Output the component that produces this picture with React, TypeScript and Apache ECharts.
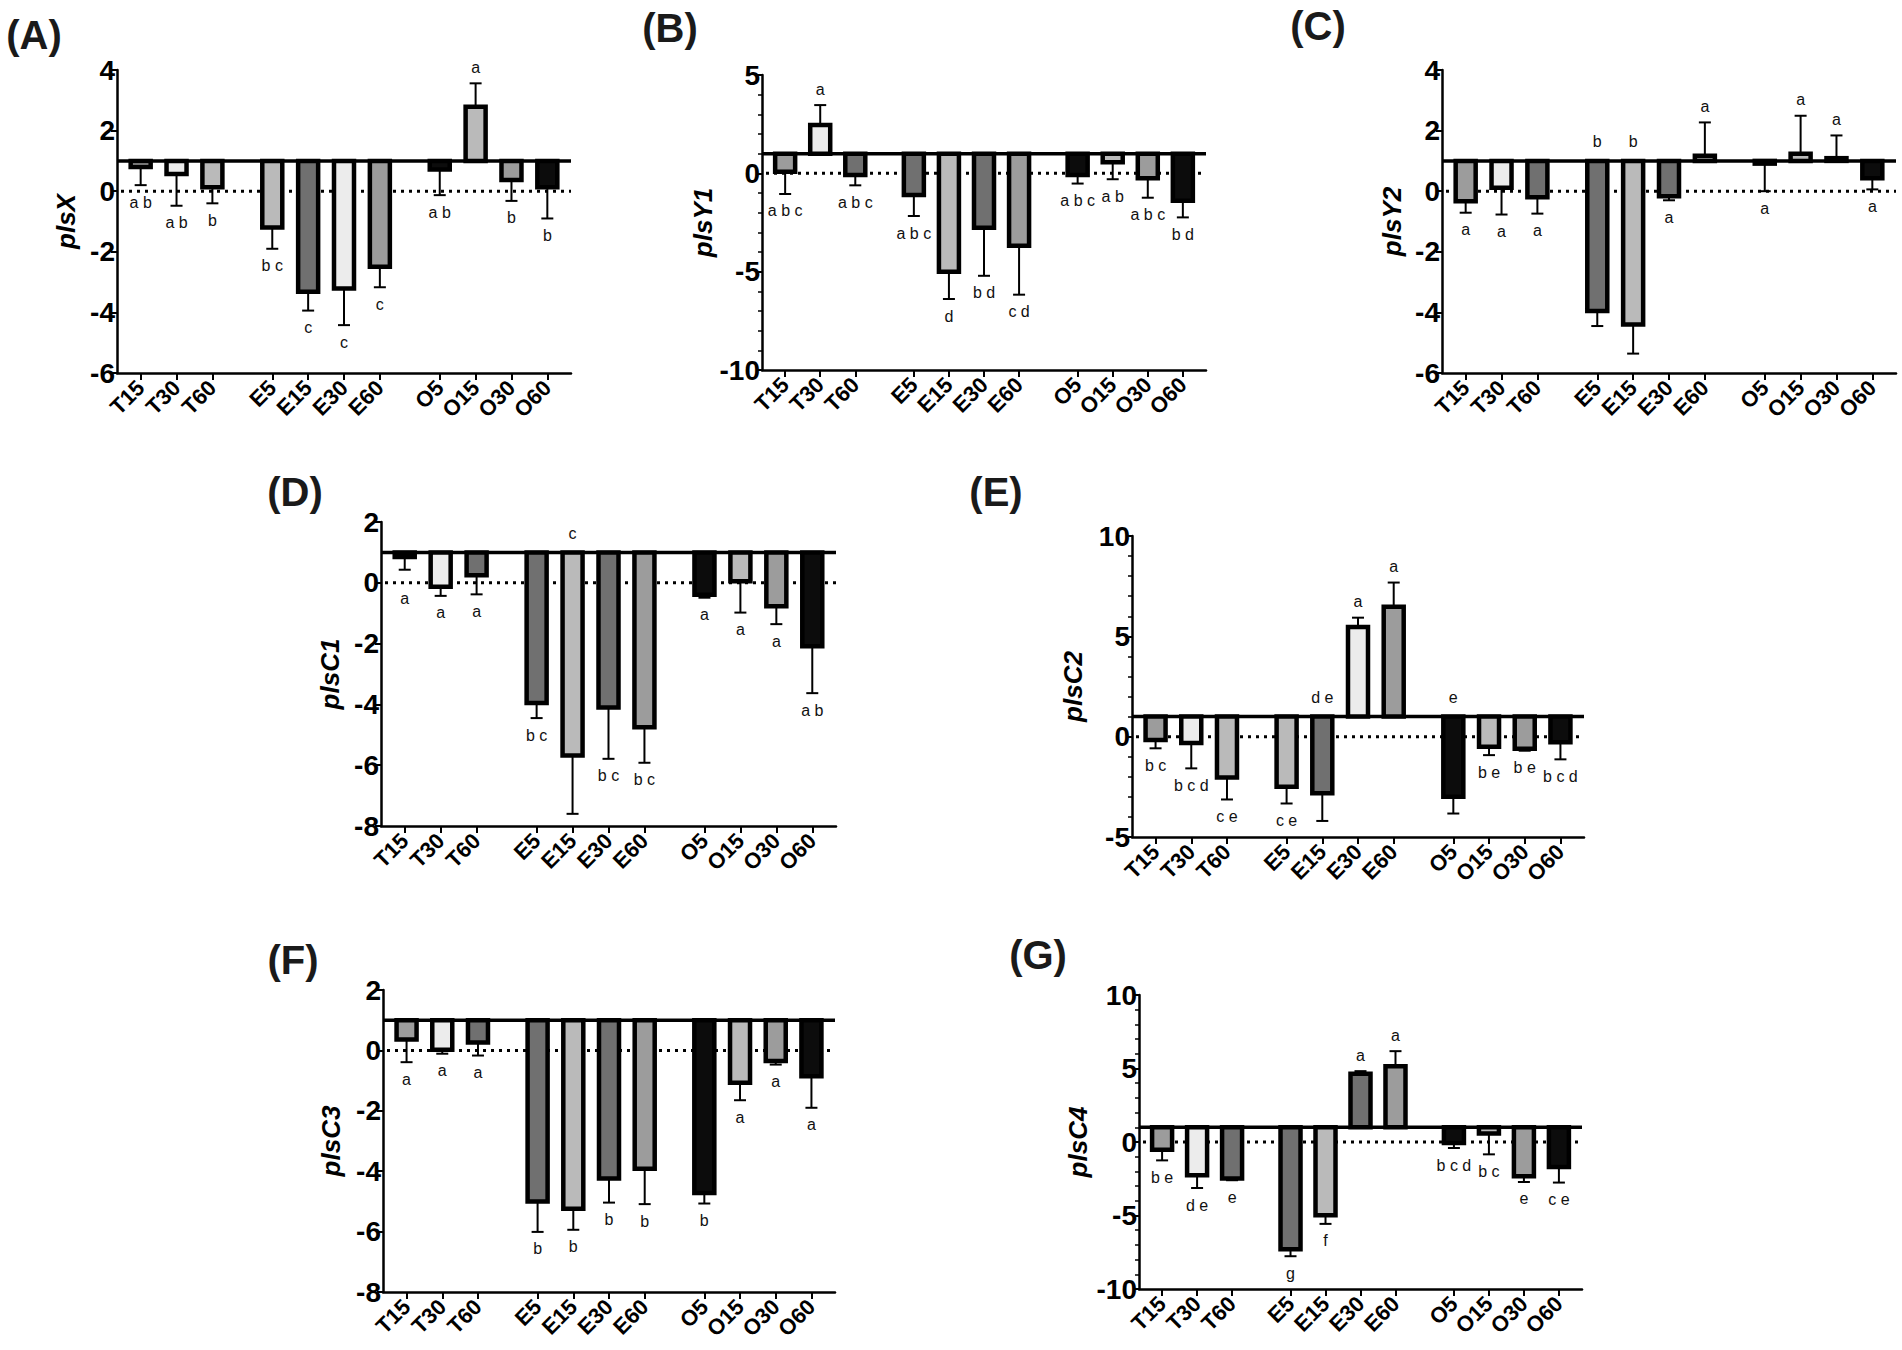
import React, { useEffect, useRef } from "react";
import * as echarts from "echarts";

// ---------- data ----------
const CATEGORIES = ["T15", "T30", "T60", "E5", "E15", "E30", "E60", "O5", "O15", "O30", "O60"];

const A_MEANS = [0.8, 0.57, 0.13, -1.2, -3.32, -3.21, -2.49, 0.72, 2.79, 0.37, 0.13];
const A_ERRS = [0.2, -0.48, -0.4, -1.9, -3.94, -4.42, -3.17, -0.13, 3.56, -0.32, -0.9];
const A_LETTERS = ["a b", "a b", "b", "b c", "c", "c", "c", "a b", "a", "b", "b"];

const B_MEANS = [0.08, 2.46, -0.09, -1.1, -5.0, -2.77, -3.68, -0.08, 0.56, -0.25, -1.39];
const B_ERRS = [-1.05, 3.47, -0.61, -2.17, -6.39, -5.21, -6.17, -0.52, -0.3, -1.24, -2.24];
const B_LETTERS = ["a b c", "a", "a b c", "a b c", "d", "b d", "c d", "a b c", "a b", "a b c", "b d"];

const C_MEANS = [-0.33, 0.11, -0.2, -3.95, -4.4, -0.17, 1.17, 0.91, 1.24, 1.09, 0.43];
const C_ERRS = [-0.71, -0.77, -0.74, -4.45, -5.36, -0.3, 2.27, 0.0, 2.49, 1.84, 0.06];
const C_LETTERS = ["a", "a", "a", "b", "b", "a", "a", "a", "a", "a", "a"];

const D_MEANS = [0.85, -0.13, 0.25, -3.95, -5.68, -4.1, -4.75, -0.39, 0.05, -0.77, -2.09];
const D_ERRS = [0.43, -0.43, -0.38, -4.45, -7.6, -5.79, -5.92, -0.49, -0.98, -1.36, -3.63];
const D_LETTERS = ["a", "a", "a", "b c", "c", "b c", "b c", "a", "a", "a", "a b"];

const E_MEANS = [-0.17, -0.32, -2.03, -2.5, -2.82, 5.47, 6.47, -3.0, -0.5, -0.6, -0.28];
const E_ERRS = [-0.58, -1.58, -3.13, -3.33, -4.2, 5.93, 7.68, -3.83, -0.92, -0.7, -1.13];
const E_LETTERS = ["b c", "b c d", "c e", "c e", "d e", "a", "a", "e", "b e", "b e", "b c d"];

const F_MEANS = [0.36, 0.02, 0.26, -5.0, -5.24, -4.24, -3.92, -4.72, -1.07, -0.35, -0.86];
const F_ERRS = [-0.39, -0.11, -0.17, -6.01, -5.94, -5.04, -5.09, -5.07, -1.65, -0.47, -1.9];
const F_LETTERS = ["a", "a", "a", "b", "b", "b", "b", "b", "a", "a", "a"];

const G_MEANS = [-0.52, -2.27, -2.49, -7.29, -4.98, 4.64, 5.16, -0.07, 0.57, -2.33, -1.7];
const G_ERRS = [-1.25, -3.13, -2.6, -7.77, -5.57, 4.82, 6.18, -0.41, -0.84, -2.72, -2.76];
const G_LETTERS = ["b e", "d e", "e", "g", "f", "a", "a", "b c d", "b c", "e", "c e"];

// labels that sit just above the baseline although the bar points down
const C_UP = [3, 4];
const D_UP = [4];
const E_UP = [4, 7];

// ---------- layout / style ----------
const BASELINE = 1;
const GROUP_GAP = 1.67;
const X_POS = CATEGORIES.map((_, i) => i + (i >= 3 ? GROUP_GAP - 1 : 0) + (i >= 7 ? GROUP_GAP - 1 : 0));
const X_MIN = -0.66;
const X_MAX = 12.0;

const FONT = "Liberation Sans, Arial, Helvetica, sans-serif";
const K = "#0c0c0c";
const D1 = "#707070";
const M = "#9c9c9c";
const L = "#bababa";
const W = "#ececec";
const PALETTE_1 = [M, W, L, L, D1, W, M, K, L, M, K];
const PALETTE_2 = [M, W, D1, D1, L, D1, M, K, L, M, K];

const PANELS = [
  { tag: "A", name: "plsX", means: A_MEANS, errs: A_ERRS, letters: A_LETTERS, up: [], colors: PALETTE_1, yMin: -6, yMax: 4, yInt: 2, minor: false },
  { tag: "B", name: "plsY1", means: B_MEANS, errs: B_ERRS, letters: B_LETTERS, up: [], colors: PALETTE_2, yMin: -10, yMax: 5, yInt: 5, minor: true },
  { tag: "C", name: "plsY2", means: C_MEANS, errs: C_ERRS, letters: C_LETTERS, up: C_UP, colors: PALETTE_2, yMin: -6, yMax: 4, yInt: 2, minor: false },
  { tag: "D", name: "plsC1", means: D_MEANS, errs: D_ERRS, letters: D_LETTERS, up: D_UP, colors: PALETTE_2, yMin: -8, yMax: 2, yInt: 2, minor: false },
  { tag: "E", name: "plsC2", means: E_MEANS, errs: E_ERRS, letters: E_LETTERS, up: E_UP, colors: PALETTE_1, yMin: -5, yMax: 10, yInt: 5, minor: true },
  { tag: "F", name: "plsC3", means: F_MEANS, errs: F_ERRS, letters: F_LETTERS, up: [], colors: PALETTE_2, yMin: -8, yMax: 2, yInt: 2, minor: false },
  { tag: "G", name: "plsC4", means: G_MEANS, errs: G_ERRS, letters: G_LETTERS, up: [], colors: PALETTE_2, yMin: -10, yMax: 10, yInt: 5, minor: true },
];

const LAYOUT = [
  { left: 117, top: 70, width: 454, height: 303, nameGap: 38, tx: 34, ty: 35 },
  { left: 762, top: 75, width: 444, height: 295, nameGap: 46, tx: 670, ty: 28 },
  { left: 1442, top: 70, width: 454, height: 303, nameGap: 37, tx: 1318, ty: 26 },
  { left: 381, top: 522, width: 455, height: 304, nameGap: 38, tx: 295, ty: 492 },
  { left: 1132, top: 536, width: 452, height: 301, nameGap: 46, tx: 996, ty: 492 },
  { left: 383, top: 990, width: 452, height: 302, nameGap: 39, tx: 293, ty: 960 },
  { left: 1139, top: 995, width: 443, height: 294, nameGap: 48, tx: 1038, ty: 955 },
];

const BAR_W = 20;
const CAP = 6;
const LETTER_SIZE = 16;

function buildOption() {
  const grid: any[] = [];
  const xAxis: any[] = [];
  const yAxis: any[] = [];
  const series: any[] = [];
  const graphic: any[] = [];

  PANELS.forEach((p, i) => {
    const lay = LAYOUT[i];
    grid.push({ left: lay.left, top: lay.top, width: lay.width, height: lay.height, containLabel: false });
    xAxis.push({
      gridIndex: i,
      type: "value",
      min: X_MIN,
      max: X_MAX,
      splitLine: { show: false },
      axisLine: { show: true, onZero: false, lineStyle: { color: "#000", width: 2.5 } },
      axisTick: { show: true, customValues: X_POS, length: 7, lineStyle: { color: "#000", width: 2 } },
      axisLabel: {
        customValues: X_POS,
        rotate: 45,
        margin: 11,
        fontSize: 22,
        fontWeight: 900,
        fontFamily: FONT,
        color: "#000",
        formatter: (val: number) => {
          const j = X_POS.findIndex((x) => Math.abs(x - val) < 1e-6);
          return j >= 0 ? CATEGORIES[j] : "";
        },
      },
    });
    yAxis.push({
      gridIndex: i,
      type: "value",
      min: p.yMin,
      max: p.yMax,
      interval: p.yInt,
      name: p.name,
      nameLocation: "middle",
      nameGap: lay.nameGap,
      nameTextStyle: { fontStyle: "italic", fontWeight: "bold", fontSize: 26, fontFamily: FONT, color: "#000" },
      splitLine: { show: false },
      axisLine: { show: true, onZero: false, lineStyle: { color: "#000", width: 2.5 } },
      axisTick: { show: true, length: 6, lineStyle: { color: "#000", width: 2 } },
      minorTick: { show: p.minor, splitNumber: 5, length: 4, lineStyle: { color: "#000", width: 1.5 } },
      axisLabel: { fontSize: 28, fontWeight: 900, fontFamily: FONT, color: "#000", margin: 2 },
    });

    // reference lines: dotted at 0, solid baseline at 1
    series.push({
      type: "custom",
      xAxisIndex: i,
      yAxisIndex: i,
      z: 1,
      silent: true,
      data: [[0, 0]],
      encode: { x: 0, y: 1 },
      renderItem: (params: any, api: any) => {
        const cs = params.coordSys;
        const y0 = api.coord([0, 0])[1];
        const y1 = api.coord([0, BASELINE])[1];
        return {
          type: "group",
          children: [
            { type: "line", shape: { x1: cs.x + 4, y1: y0, x2: cs.x + cs.width, y2: y0 }, style: { stroke: "#000", lineWidth: 3, lineDash: [3, 5] } },
            { type: "line", shape: { x1: cs.x, y1: y1, x2: cs.x + cs.width, y2: y1 }, style: { stroke: "#000", lineWidth: 3.5 } },
          ],
        };
      },
    });

    // bars + error bars + letters
    series.push({
      type: "custom",
      xAxisIndex: i,
      yAxisIndex: i,
      z: 2,
      silent: true,
      data: X_POS.map((x, j) => [x, p.means[j], p.errs[j]]),
      encode: { x: 0, y: 1 },
      renderItem: (params: any, api: any) => {
        const j = params.dataIndex;
        const x = api.value(0);
        const v = api.value(1);
        const e = api.value(2);
        const base = api.coord([x, BASELINE]);
        const end = api.coord([x, v]);
        const err = api.coord([x, e]);
        const zero = api.coord([x, 0]);
        const cx = base[0];
        const up = v > BASELINE;
        const forcedUp = p.up.indexOf(j) >= 0;
        let ly = up ? err[1] - 16 : forcedUp ? base[1] - 19 : err[1] + 17;
        if (!up && !forcedUp && Math.abs(ly - zero[1]) < 9) ly = zero[1] + 16;
        return {
          type: "group",
          children: [
            { type: "line", shape: { x1: cx, y1: end[1], x2: cx, y2: err[1] }, style: { stroke: "#000", lineWidth: 2 } },
            { type: "line", shape: { x1: cx - CAP, y1: err[1], x2: cx + CAP, y2: err[1] }, style: { stroke: "#000", lineWidth: 2 } },
            {
              type: "rect",
              shape: { x: cx - BAR_W / 2, y: Math.min(base[1], end[1]), width: BAR_W, height: Math.abs(end[1] - base[1]) },
              style: { fill: p.colors[j], stroke: "#000", lineWidth: 4.5 },
            },
            {
              type: "text",
              style: {
                text: p.letters[j],
                x: cx,
                y: ly,
                fill: "#111",
                font: `${LETTER_SIZE}px ${FONT}`,
                align: "center",
                verticalAlign: "middle",
                textAlign: "center",
                textVerticalAlign: "middle",
              },
            },
          ],
        };
      },
    });

    graphic.push({
      type: "text",
      x: lay.tx,
      y: lay.ty,
      style: {
        text: `(${p.tag})`,
        font: `bold 40px ${FONT}`,
        fill: "#1a1a1a",
        align: "center",
        verticalAlign: "middle",
        textAlign: "center",
        textVerticalAlign: "middle",
      },
    });
  });

  return { animation: false, backgroundColor: "#fff", grid, xAxis, yAxis, series, graphic };
}

export default function App() {
  const ref = useRef<HTMLDivElement>(null);
  useEffect(() => {
    if (!ref.current) return;
    const chart = echarts.init(ref.current, undefined, { renderer: "svg" });
    chart.setOption(buildOption() as any);
    return () => chart.dispose();
  }, []);
  return (
    <div
      ref={ref}
      style={{ position: "absolute", left: 0, top: 0, width: 1902, height: 1350, background: "#fff" }}
    />
  );
}
